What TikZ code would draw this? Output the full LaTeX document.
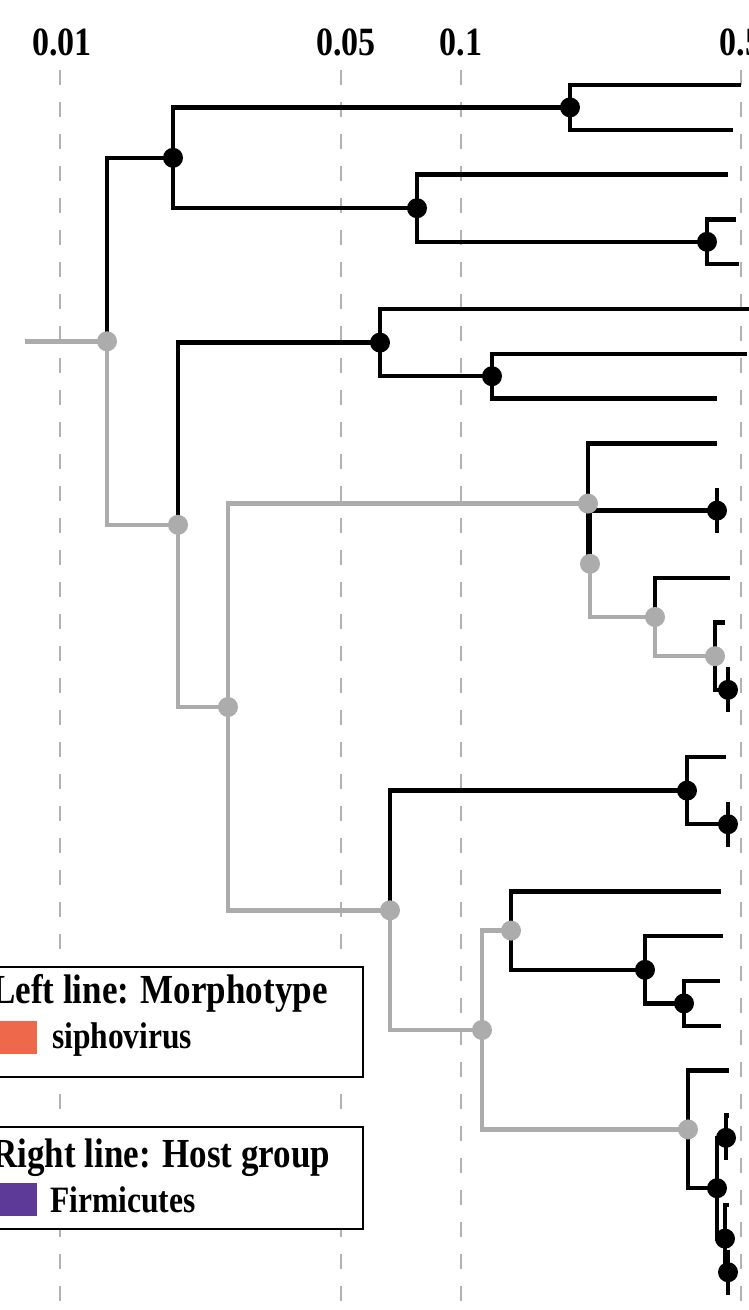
\documentclass[tikz,border=0pt]{standalone}
\usepackage{fontspec}
\setmainfont{Liberation Serif}
\definecolor{brgray}{RGB}{172,172,172}
\definecolor{gridgray}{RGB}{178,178,178}
\definecolor{sipho}{RGB}{238,104,76}
\definecolor{firmi}{RGB}{94,58,152}
\newcommand{\tall}[1]{\scalebox{1}[1.18]{#1}}
\begin{document}
\begin{tikzpicture}[x=1pt,y=-1pt,
  blk/.style={line width=4.4pt,black},
  gry/.style={line width=4.4pt,brgray},
  grid/.style={gridgray,line width=1.2pt,dash pattern=on 15pt off 17pt},
  axlab/.style={anchor=base,inner sep=0pt,font=\fontsize{34}{40}\selectfont\bfseries},
  legtitle/.style={anchor=base west,inner sep=0pt,font=\fontsize{35}{40}\selectfont\bfseries},
  legitem/.style={anchor=base west,inner sep=0pt,font=\fontsize{31.5}{36}\selectfont\bfseries},
  legbox/.style={draw=black,fill=white,line width=1.5pt}]
\pgfmathsetmacro{\dotr}{10}
\useasboundingbox (0,0) rectangle (749,1310);
\fill[white] (0,0) rectangle (749,1310);

\foreach \gx/\tx/\glab in {60/62/0.01,341/346/0.05,461/461/0.1,741/741/0.5}{
  \draw[grid] (\gx,70) -- (\gx,1310);
  \node[axlab] (lab\gx) at (\tx,55) {\tall{\glab}};
}

\coordinate (stub) at (25,341.3);
\coordinate (root) at (107,341.3);
\coordinate (nA) at (173,157.8);
\coordinate (nB) at (570,107.4);
\coordinate (nC) at (417,208.2);
\coordinate (nD) at (707,241.8);
\coordinate (nG) at (178,524.8);
\coordinate (nE) at (380,342.6);
\coordinate (nF) at (492,376.2);
\coordinate (nH) at (228,707);
\coordinate (nI) at (588,503.6);
\coordinate (nN) at (590,563.8);
\coordinate (nJ) at (717,510.6);
\coordinate (nM) at (655,617);
\coordinate (nL) at (715,656.2);
\coordinate (nK) at (728,689.8);
\coordinate (nO) at (390,910.3);
\coordinate (nP) at (687,790.6);
\coordinate (nR) at (728,824.2);
\coordinate (nQ) at (482,1030);
\coordinate (nS) at (511,930.6);
\coordinate (nT) at (645,969.8);
\coordinate (nU) at (684,1003.4);
\coordinate (nV) at (688,1129.4);
\coordinate (nW) at (717,1188.2);
\coordinate (nX) at (726,1137.8);
\coordinate (nY) at (725,1238.6);
\coordinate (nZ) at (728,1272.2);

\coordinate (t1) at (741,85);
\coordinate (t2) at (733,129.8);
\coordinate (t3) at (728,174.6);
\coordinate (t4) at (736,219.4);
\coordinate (t5) at (739,264.2);
\coordinate (t6) at (752,309);
\coordinate (t7) at (747,353.8);
\coordinate (t8) at (717,398.6);
\coordinate (t9) at (717,443.4);
\coordinate (t10) at (717,488.2);
\coordinate (t11) at (717,533);
\coordinate (t12) at (730,577.8);
\coordinate (t13) at (725,622.6);
\coordinate (t14) at (728,667.4);
\coordinate (t15) at (728,712.2);
\coordinate (t16) at (726,757);
\coordinate (t17) at (728,801.8);
\coordinate (t18) at (728,846.6);
\coordinate (t19) at (721,891.4);
\coordinate (t20) at (723,936.2);
\coordinate (t21) at (720,981);
\coordinate (t22) at (721,1025.8);
\coordinate (t23) at (729,1070.6);
\coordinate (t24) at (729,1115.4);
\coordinate (t25) at (726,1160.2);
\coordinate (t26) at (729,1205);
\coordinate (t27) at (728,1249.8);
\coordinate (t28) at (728,1294.6);

\draw[gry] (stub) -- (root);
\draw[blk] (root) |- (nA);
\draw[gry] (root) |- (nG);
\draw[blk] (nA) |- (nB);
\draw[blk] (nA) |- (nC);
\draw[blk] (nB) |- (t1);
\draw[blk] (nB) |- (t2);
\draw[blk] (nC) |- (t3);
\draw[blk] (nC) |- (nD);
\draw[blk] (nD) |- (t4);
\draw[blk] (nD) |- (t5);
\draw[blk] (nG) |- (nE);
\draw[gry] (nG) |- (nH);
\draw[blk] (nE) |- (t6);
\draw[blk] (nE) |- (nF);
\draw[blk] (nF) |- (t7);
\draw[blk] (nF) |- (t8);
\draw[gry] (nH) |- (nI);
\draw[gry] (nH) |- (nO);
\draw[blk] (nI) |- (t9);
\draw[blk] (nI) |- (nN);
\draw[blk] (nN) |- (nJ);
\draw[gry] (nN) |- (nM);
\draw[blk] (nJ) |- (t10);
\draw[blk] (nJ) |- (t11);
\draw[blk] (nM) |- (t12);
\draw[gry] (nM) |- (nL);
\draw[blk] (nL) |- (t13);
\draw[blk] (nL) |- (nK);
\draw[blk] (nK) |- (t14);
\draw[blk] (nK) |- (t15);
\draw[blk] (nO) |- (nP);
\draw[gry] (nO) |- (nQ);
\draw[blk] (nP) |- (t16);
\draw[blk] (nP) |- (nR);
\draw[blk] (nR) |- (t17);
\draw[blk] (nR) |- (t18);
\draw[gry] (nQ) |- (nS);
\draw[gry] (nQ) |- (nV);
\draw[blk] (nS) |- (t19);
\draw[blk] (nS) |- (nT);
\draw[blk] (nT) |- (t20);
\draw[blk] (nT) |- (nU);
\draw[blk] (nU) |- (t21);
\draw[blk] (nU) |- (t22);
\draw[blk] (nV) |- (t23);
\draw[blk] (nV) |- (nW);
\draw[blk] (nW) |- (nX);
\draw[blk] (nX) |- (t24);
\draw[blk] (nX) |- (t25);
\draw[blk] (nW) |- (nY);
\draw[blk] (nY) |- (t26);
\draw[blk] (nY) |- (nZ);
\draw[blk] (nZ) |- (t27);
\draw[blk] (nZ) |- (t28);

\foreach \n in {root,nG,nH,nI,nN,nM,nL,nO,nQ,nS,nV}
  \fill[brgray] (\n) circle[radius=\dotr];
\foreach \n in {nA,nB,nC,nD,nE,nF,nJ,nK,nP,nR,nT,nU,nW,nX,nY,nZ}
  \fill[black] (\n) circle[radius=\dotr];

\draw[legbox] (-5,967) rectangle (363,1077);
\node[legtitle] (ttl1) at (-8,1003) {\tall{Left line: Morphotype}};
\fill[sipho] (-5,1021) rectangle (37,1054);
\node[legitem] (key1) at (52,1048) {\tall{siphovirus}};
\draw[legbox] (-5,1127) rectangle (363,1229);
\node[legtitle] (ttl2) at (-8,1167) {\tall{Right line: Host group}};
\fill[firmi] (-5,1183) rectangle (37,1216);
\node[legitem] (key2) at (50,1212) {\tall{Firmicutes}};
\end{tikzpicture}
\end{document}
